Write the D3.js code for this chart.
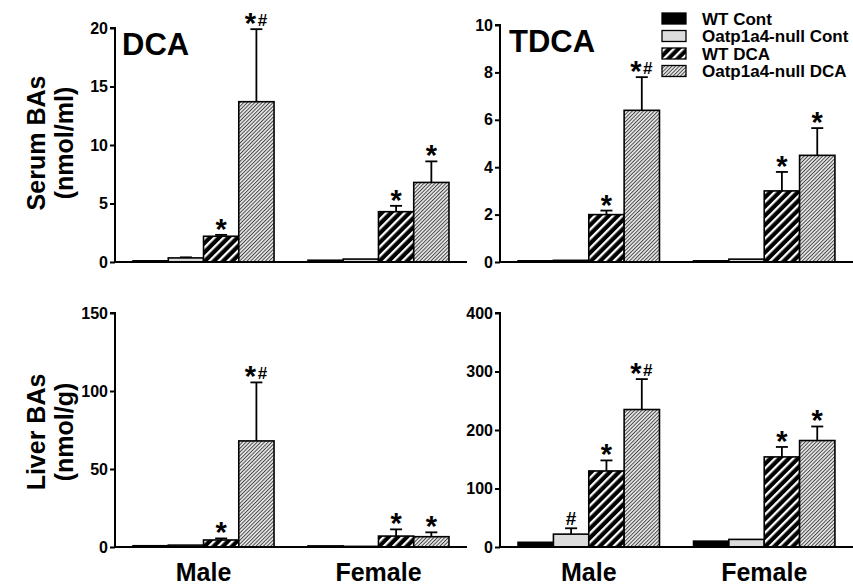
<!DOCTYPE html>
<html>
<head>
<meta charset="utf-8">
<script src="https://cdn.jsdelivr.net/npm/d3@7"></script>
<style>
  html, body { margin: 0; padding: 0; background: #fff; }
  svg { display: block; }
  text { font-family: "Liberation Sans", Arial, sans-serif; fill: #000; }
</style>
</head>
<body>
<svg id="chart" width="853" height="587"></svg>
<script>
// ---------- data ----------
const groups = ["Male", "Female"];
const series = ["WT Cont", "Oatp1a4-null Cont", "WT DCA", "Oatp1a4-null DCA"];

// Serum DCA (nmol/ml)
const serumDCA      = [[0.1, 0.35, 2.2, 13.7], [0.15, 0.25, 4.3, 6.8]];
const serumDCAErr   = [[0, 0.05, 0.12, 6.2], [0, 0, 0.5, 1.8]];
const serumDCASig   = [["", "", "*", "*#"], ["", "", "*", "*"]];
const serumDCATicks = [0, 5, 10, 15, 20];

// Serum TDCA (nmol/ml)
const serumTDCA      = [[0.05, 0.07, 2.0, 6.4], [0.05, 0.12, 3.0, 4.5]];
const serumTDCAErr   = [[0, 0, 0.17, 1.4], [0, 0, 0.8, 1.15]];
const serumTDCASig   = [["", "", "*", "*#"], ["", "", "*", "*"]];
const serumTDCATicks = [0, 2, 4, 6, 8, 10];

// Liver DCA (nmol/g)
const liverDCA      = [[0.8, 1.2, 4.5, 68], [0.7, 0.4, 7.0, 6.6]];
const liverDCAErr   = [[0, 0, 1.0, 37.5], [0, 0, 4.3, 2.8]];
const liverDCASig   = [["", "", "*", "*#"], ["", "", "*", "*"]];
const liverDCATicks = [0, 50, 100, 150];

// Liver TDCA (nmol/g)
const liverTDCA      = [[8, 22, 130, 235], [10, 13, 154, 182]];
const liverTDCAErr   = [[0, 10, 18, 52], [0, 0, 17, 24]];
const liverTDCASig   = [["", "#", "*", "*#"], ["", "", "*", "*"]];
const liverTDCATicks = [0, 100, 200, 300, 400];

// ---------- drawing ----------
const svg = d3.select("#chart");
const defs = svg.append("defs");

// WT DCA: black with white "/" stripes
const p1 = defs.append("pattern").attr("id", "hatchWT")
  .attr("patternUnits", "userSpaceOnUse").attr("width", 6.5).attr("height", 6.5)
  .attr("patternTransform", "rotate(45)");
p1.append("rect").attr("width", 6.5).attr("height", 6.5).attr("fill", "#000");
p1.append("rect").attr("x", 0).attr("width", 2.3).attr("height", 6.5).attr("fill", "#fff");

// Oatp1a4-null DCA: light grey with thin dark "/" lines
const p2 = defs.append("pattern").attr("id", "hatchNull")
  .attr("patternUnits", "userSpaceOnUse").attr("width", 2.6).attr("height", 4)
  .attr("patternTransform", "rotate(45)");
p2.append("rect").attr("width", 2.6).attr("height", 4).attr("fill", "#e4e4e4");
p2.append("rect").attr("x", 0).attr("width", 0.9).attr("height", 4).attr("fill", "#444");

const fills = ["#000", "#dcdcdc", "url(#hatchWT)", "url(#hatchNull)"];

function panel(cfg) {
  const { x0, x1, yTop, yBot, ticks, values, errs, sigs, title, titleX } = cfg;
  const g = svg.append("g");
  const y = d3.scaleLinear().domain([0, ticks[ticks.length - 1]]).range([yBot, yTop]);
  const xg = d3.scaleBand().domain(groups).range([x0, x1]).paddingInner(0.194).paddingOuter(0.103);
  const xs = d3.scaleBand().domain(d3.range(series.length)).range([0, xg.bandwidth()]).padding(0);

  groups.forEach((grp, gi) => {
    series.forEach((s, si) => {
      const v = values[gi][si];
      const bx = xg(grp) + xs(si);
      const bw = xs.bandwidth();
      const e = errs[gi][si];
      if (e > 0) {
        const cx = bx + bw / 2;
        g.append("line").attr("x1", cx).attr("x2", cx)
          .attr("y1", y(v)).attr("y2", y(v + e))
          .attr("stroke", "#000").attr("stroke-width", 1.8);
        g.append("line").attr("x1", cx - 6).attr("x2", cx + 6)
          .attr("y1", y(v + e)).attr("y2", y(v + e))
          .attr("stroke", "#000").attr("stroke-width", 1.8);
      }
      g.append("rect")
        .attr("x", bx).attr("y", y(v))
        .attr("width", bw).attr("height", Math.max(0, yBot - y(v)))
        .attr("fill", fills[si]).attr("stroke", "#000").attr("stroke-width", 1.6);
      const sig = sigs[gi][si];
      if (sig) {
        const topY = y(v + e);
        const cx = bx + bw / 2;
        if (sig === "#") {
          g.append("text").attr("x", cx).attr("y", topY - 3).attr("text-anchor", "middle")
            .attr("font-size", 19).attr("font-weight", "bold").text("#");
        } else if (sig === "*") {
          g.append("text").attr("x", cx).attr("y", topY + 4).attr("text-anchor", "middle")
            .attr("font-size", 29).attr("font-weight", "bold").text("*");
        } else {
          g.append("text").attr("x", cx - 6).attr("y", topY + 4).attr("text-anchor", "middle")
            .attr("font-size", 29).attr("font-weight", "bold").text("*");
          g.append("text").attr("x", cx + 6).attr("y", topY - 3).attr("text-anchor", "middle")
            .attr("font-size", 17).attr("font-weight", "bold").text("#");
        }
      }
    });
  });

  const ya = d3.axisLeft(y).tickValues(ticks).tickSize(5).tickPadding(2).tickFormat(d3.format("d"));
  const yAx = g.append("g").attr("transform", `translate(${x0},0)`).call(ya);
  yAx.select(".domain").attr("stroke-width", 2).attr("d", `M-5,${yTop}H0V${yBot}`);
  yAx.selectAll(".tick line").attr("stroke-width", 2);
  yAx.selectAll(".tick text").attr("font-size", 16).attr("font-weight", "bold")
    .attr("font-family", "'Liberation Sans', Arial, sans-serif").attr("fill", "#000");

  g.append("line").attr("x1", x0).attr("x2", x1).attr("y1", yBot).attr("y2", yBot)
    .attr("stroke", "#000").attr("stroke-width", 2);

  if (cfg.showX) {
    groups.forEach(grp => {
      g.append("text").attr("x", xg(grp) + xg.bandwidth() / 2).attr("y", 581)
        .attr("text-anchor", "middle").attr("font-size", 25).attr("font-weight", "bold").text(grp);
    });
  }
  if (title) {
    g.append("text").attr("x", titleX).attr("y", yTop + 27).attr("font-size", 31)
      .attr("font-weight", "bold").text(title);
  }
}

panel({ x0: 115, x1: 467, yTop: 28, yBot: 262, ticks: serumDCATicks,
  values: serumDCA, errs: serumDCAErr, sigs: serumDCASig, title: "DCA", titleX: 122 });
panel({ x0: 500, x1: 853, yTop: 25, yBot: 262, ticks: serumTDCATicks,
  values: serumTDCA, errs: serumTDCAErr, sigs: serumTDCASig, title: "TDCA", titleX: 509 });
panel({ x0: 115, x1: 467, yTop: 313, yBot: 547, ticks: liverDCATicks,
  values: liverDCA, errs: liverDCAErr, sigs: liverDCASig, showX: true });
panel({ x0: 500, x1: 853, yTop: 313, yBot: 547, ticks: liverTDCATicks,
  values: liverTDCA, errs: liverTDCAErr, sigs: liverTDCASig, showX: true });

function yTitle(lines, cy) {
  lines.forEach((ln, i) => {
    svg.append("text")
      .attr("transform", `translate(${45 + i * 28},${cy}) rotate(-90)`)
      .attr("text-anchor", "middle").attr("font-size", 25).attr("font-weight", "bold").text(ln);
  });
}
yTitle(["Serum BAs", "(nmol/ml)"], 143);
yTitle(["Liver BAs", "(nmol/g)"], 432);

const leg = svg.append("g").attr("transform", "translate(662,13)");
series.forEach((s, i) => {
  leg.append("rect").attr("x", 0).attr("y", i * 17.5).attr("width", 24).attr("height", 11)
    .attr("fill", fills[i]).attr("stroke", "#000").attr("stroke-width", 1.3);
  leg.append("text").attr("x", 40).attr("y", i * 17.5 + 11.5)
    .attr("font-size", 17).attr("font-weight", "bold").text(s);
});
</script>
</body>
</html>
